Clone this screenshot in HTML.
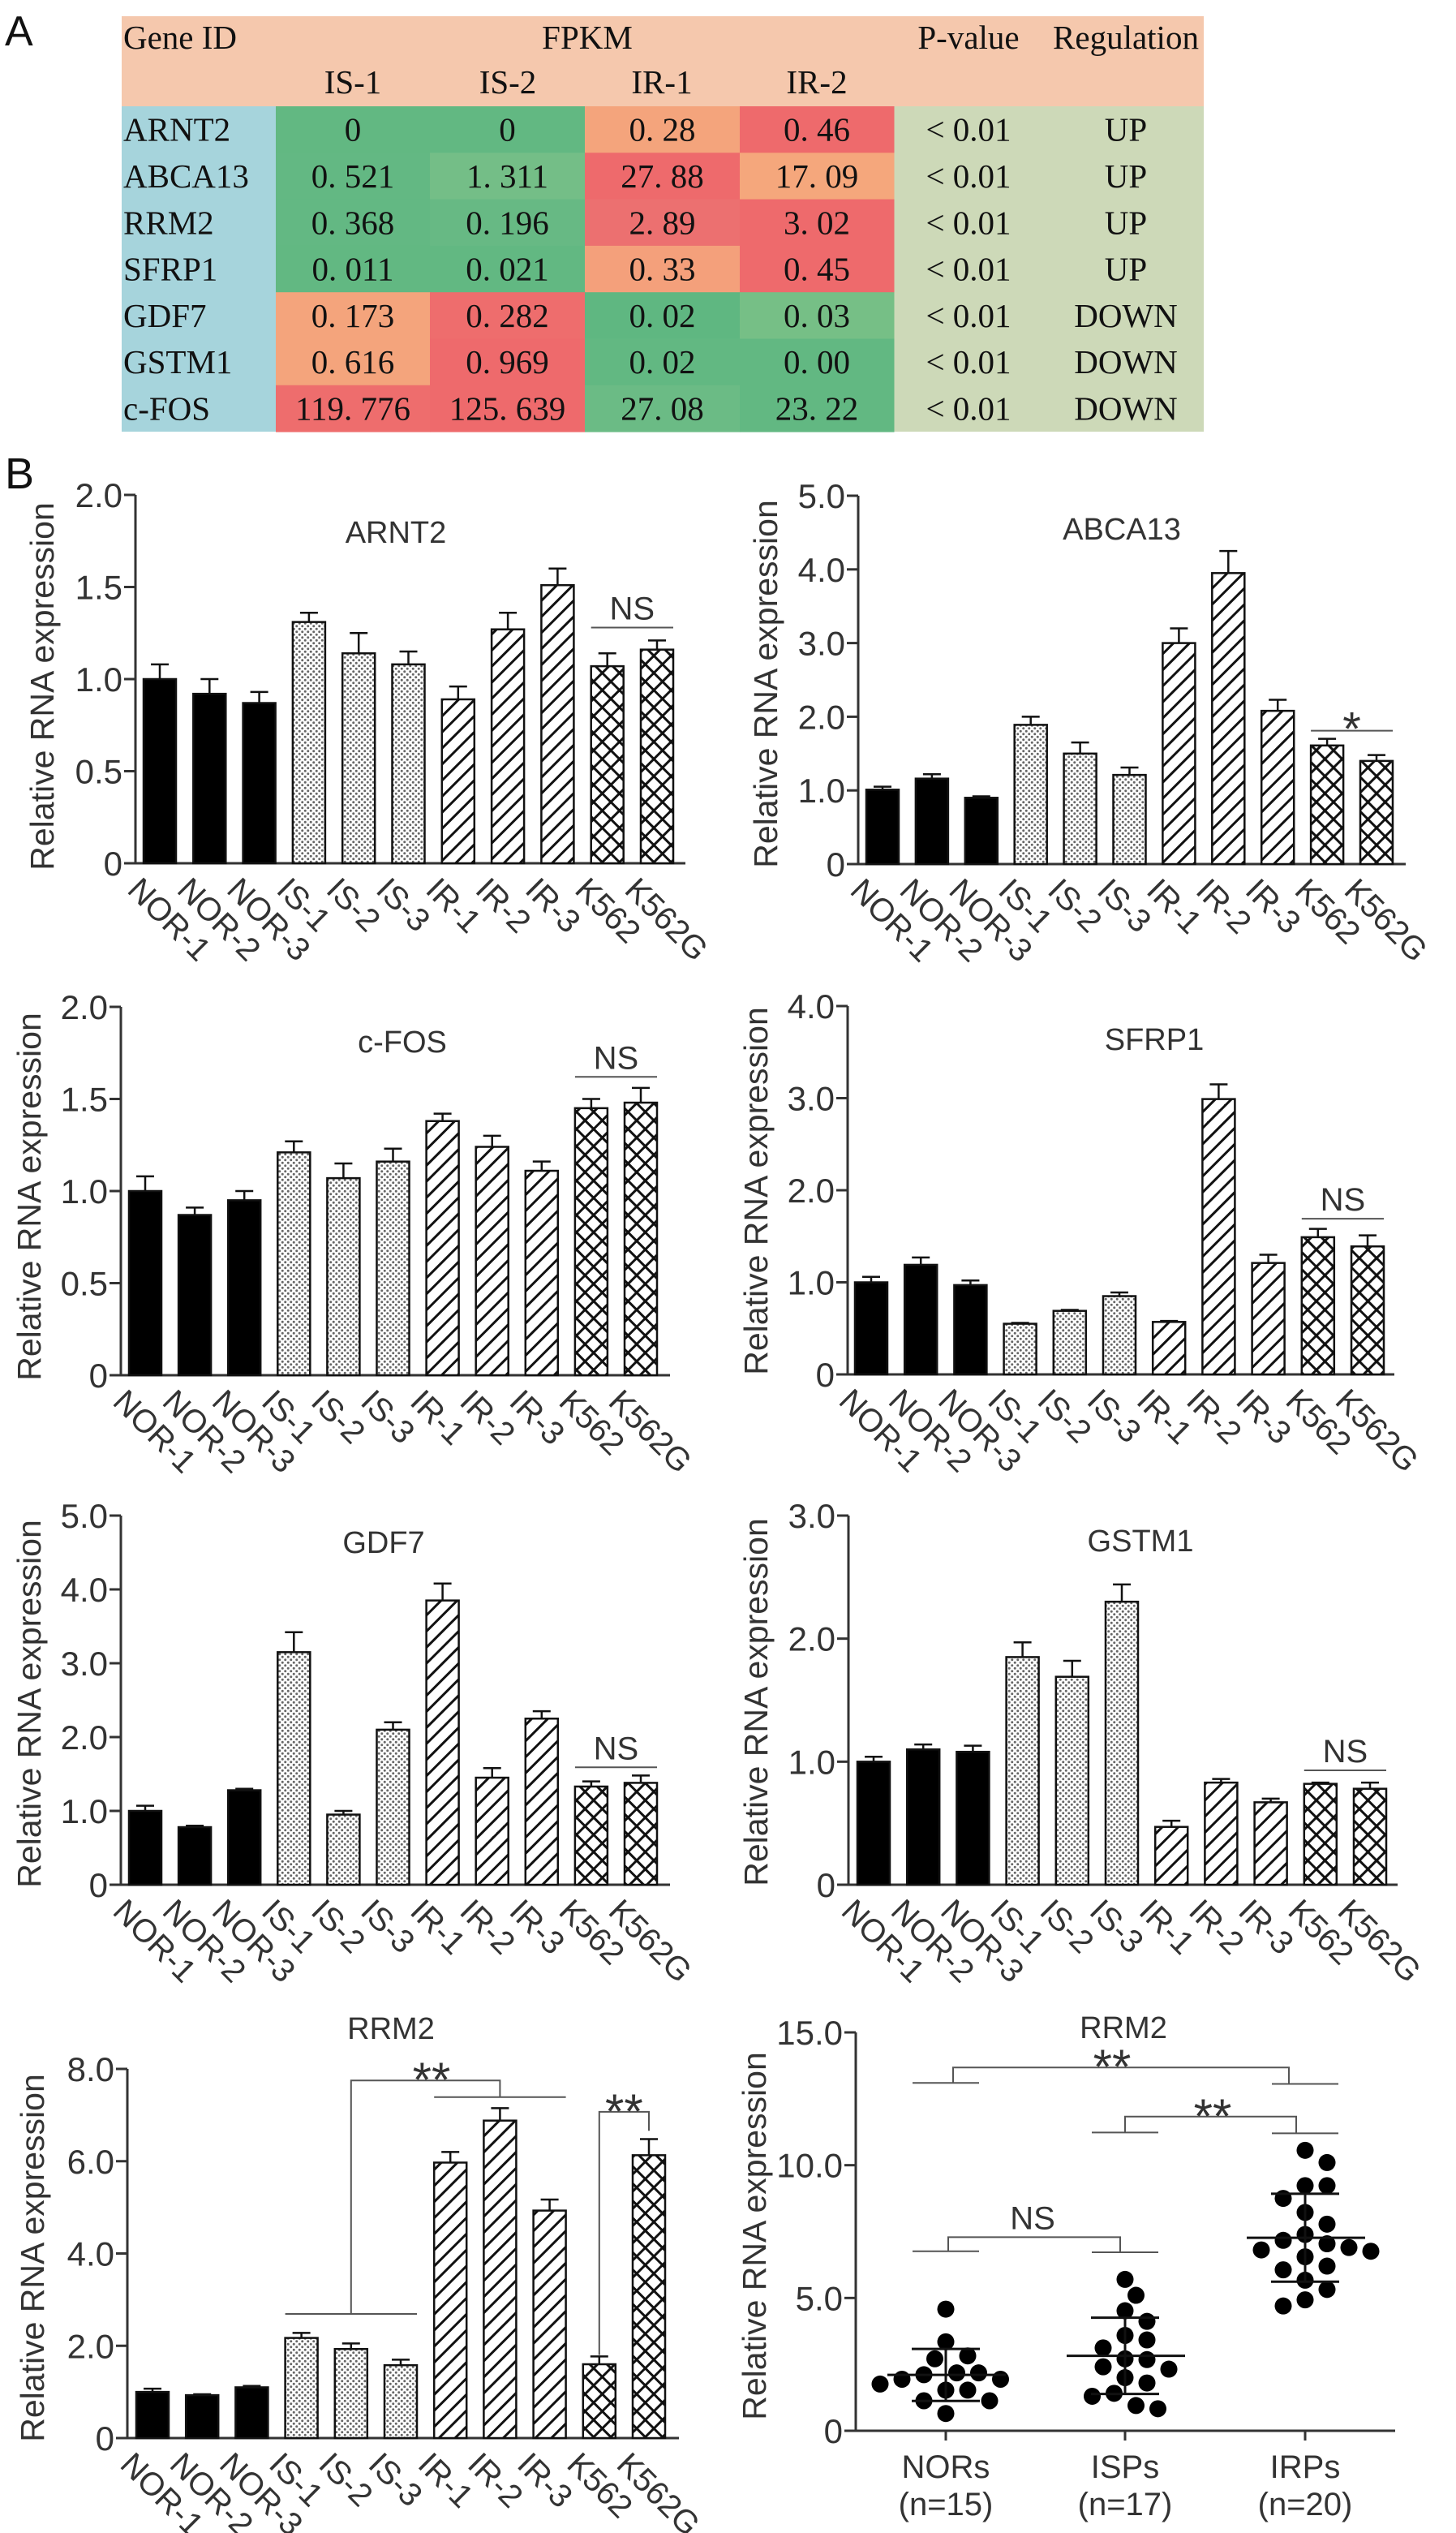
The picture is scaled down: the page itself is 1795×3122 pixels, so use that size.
<!DOCTYPE html>
<html><head><meta charset="utf-8"><title>Gene expression figure</title>
<style>
html,body{margin:0;padding:0;background:#fff;}
svg{display:block;}
.tb{font-family:"Liberation Serif",serif;font-size:41px;fill:#111;}
.ax{font-family:"Liberation Sans",sans-serif;fill:#333;}
</style></head>
<body>
<svg id="fig" xmlns="http://www.w3.org/2000/svg" width="1795" height="3122" viewBox="0 0 1795 3122">
<defs>
<pattern id="pDots" patternUnits="userSpaceOnUse" width="7" height="7">
<rect width="7" height="7" fill="#fff"/><circle cx="1.75" cy="1.75" r="1.5" fill="#666"/><circle cx="5.25" cy="5.25" r="1.5" fill="#666"/></pattern>
<pattern id="pStripe" patternUnits="userSpaceOnUse" width="14" height="14" patternTransform="rotate(45)">
<rect width="14" height="14" fill="#fff"/><line x1="0" y1="0" x2="0" y2="14" stroke="#111" stroke-width="6"/></pattern>
<pattern id="pCross" patternUnits="userSpaceOnUse" width="15" height="15" patternTransform="rotate(45)">
<rect width="15" height="15" fill="#fff"/><line x1="0" y1="0" x2="0" y2="15" stroke="#111" stroke-width="6"/><line x1="0" y1="0" x2="15" y2="0" stroke="#111" stroke-width="6"/></pattern>
</defs>

<text x="6" y="56" font-family="Liberation Sans, sans-serif" font-size="52" fill="#111">A</text>
<text x="6" y="602" font-family="Liberation Sans, sans-serif" font-size="54" fill="#111">B</text>

<g id="table"></g>
<g id="charts"></g>
</svg>

<script>
// ---------- Table data ----------
const tblGenes = ['ARNT2','ABCA13','RRM2','SFRP1','GDF7','GSTM1','c-FOS'];
const tblIS1 = ['0','0. 521','0. 368','0. 011','0. 173','0. 616','119. 776'];
const tblIS2 = ['0','1. 311','0. 196','0. 021','0. 282','0. 969','125. 639'];
const tblIR1 = ['0. 28','27. 88','2. 89','0. 33','0. 02','0. 02','27. 08'];
const tblIR2 = ['0. 46','17. 09','3. 02','0. 45','0. 03','0. 00','23. 22'];
const tblReg = ['UP','UP','UP','UP','DOWN','DOWN','DOWN'];
const tblColors = [
 ['#62b882','#62b882','#f4a47c','#ee6a6c'],
 ['#63b883','#74be87','#ee6a6c','#f5a77c'],
 ['#63b883','#67b984','#ec7070','#ee6a6c'],
 ['#62b882','#62b882','#f4a07b','#ee6a6c'],
 ['#f4a47c','#ee6d6d','#5fb781','#76bf86'],
 ['#f4a47c','#ee6a6c','#62b882','#62b882'],
 ['#ee6d6d','#ee6a6c','#6bbb85','#62b882']];

// ---------- Bar chart data ----------
const cats = ['NOR-1','NOR-2','NOR-3','IS-1','IS-2','IS-3','IR-1','IR-2','IR-3','K562','K562G'];
const arnt2Vals = [1.00,0.92,0.87,1.31,1.14,1.08,0.89,1.27,1.51,1.07,1.16];
const arnt2Errs = [0.08,0.08,0.06,0.05,0.11,0.07,0.07,0.09,0.09,0.07,0.05];
const abca13Vals = [1.01,1.16,0.90,1.89,1.50,1.21,3.00,3.95,2.08,1.61,1.40];
const abca13Errs = [0.04,0.06,0.02,0.11,0.15,0.10,0.20,0.30,0.15,0.09,0.08];
const cfosVals = [1.00,0.87,0.95,1.21,1.07,1.16,1.38,1.24,1.11,1.45,1.48];
const cfosErrs = [0.08,0.04,0.05,0.06,0.08,0.07,0.04,0.06,0.05,0.05,0.08];
const sfrp1Vals = [1.00,1.19,0.97,0.55,0.69,0.85,0.57,2.99,1.21,1.49,1.39];
const sfrp1Errs = [0.06,0.08,0.05,0.01,0.01,0.04,0.01,0.16,0.09,0.09,0.12];
const gdf7Vals = [1.00,0.78,1.28,3.15,0.95,2.10,3.85,1.45,2.25,1.33,1.38];
const gdf7Errs = [0.07,0.02,0.02,0.27,0.05,0.10,0.23,0.13,0.10,0.07,0.10];
const gstm1Vals = [1.00,1.10,1.08,1.85,1.69,2.30,0.47,0.83,0.67,0.82,0.78];
const gstm1Errs = [0.04,0.04,0.05,0.12,0.13,0.14,0.05,0.03,0.03,0.01,0.05];
const rrm2Vals = [1.00,0.93,1.10,2.17,1.93,1.58,5.97,6.88,4.93,1.60,6.13];
const rrm2Errs = [0.07,0.02,0.03,0.11,0.12,0.12,0.23,0.27,0.24,0.17,0.35];

// ---------- Scatter data ----------
const grpNames = ['NORs','ISPs','IRPs'];
const grpNs = ['(n=15)','(n=17)','(n=20)'];
const norPts = [4.58,3.35,2.71,2.82,2.18,1.94,2.11,1.94,2.18,1.53,1.76,1.53,1.13,1.13,0.65];
const ispPts = [5.70,5.10,4.52,4.12,3.59,3.42,3.12,2.68,2.71,2.41,2.32,2.00,1.80,1.41,1.30,0.83,0.95];
const irpPts = [10.56,10.10,9.23,9.23,8.75,8.22,7.78,7.39,7.17,6.90,6.76,6.81,7.04,6.55,6.06,6.20,5.67,5.32,4.70,4.93];

const NS = 'http://www.w3.org/2000/svg';
const TICK_FS = 42, YT_FS = 41, TITLE_FS = 38, CAT_FS = 40;
function mk(tag, attrs, parent){
  const el = document.createElementNS(NS, tag);
  for (const k in attrs) el.setAttribute(k, attrs[k]);
  parent.appendChild(el);
  return el;
}

// ---------- Build table ----------
(function(){
  const g = document.getElementById('table');
  const L=150, R=1484, T=20, HB=131, RH=57.3;
  const colX = [150,340,530,721,912,1102,1293,1484];
  let el;
  el = mk('rect',{x:L,y:T,width:R-L,height:HB-T,fill:'#f5c8ad'},g);
  
  
  el = mk('rect',{x:L,y:HB,width:190,height:RH*7,fill:'#a6d4dc'},g);
  
  
  el = mk('rect',{x:1102,y:HB,width:R-1102,height:RH*7,fill:'#cdd9b8'},g);
  
  
  const heads = [['Gene ID',152,66,'start'],['FPKM',724,66,'middle'],['P-value',1194,66,'middle'],['Regulation',1388,66,'middle'],
                 ['IS-1',435,121,'middle'],['IS-2',626,121,'middle'],['IR-1',816,121,'middle'],['IR-2',1007,121,'middle']];
  heads.forEach(h=>{
    el = mk('text',{x:h[1],y:h[2]-6,'text-anchor':h[3],class:'tb'},g);
    el.textContent = h[0];
    
    
  });
  tblGenes.forEach((gene,i)=>{
    const y = HB + RH*i;
    const cy = y + RH/2 + 14;
    const vals = [tblIS1[i],tblIS2[i],tblIR1[i],tblIR2[i]];
    for(let c=0;c<4;c++){
      el = mk('rect',{x:colX[c+1],y:y,width:colX[c+2]-colX[c+1]+0.5,height:RH+0.5,fill:tblColors[i][c]},g);
      
      
      el = mk('text',{x:(colX[c+1]+colX[c+2])/2,y:cy,'text-anchor':'middle',class:'tb'},g);
      el.textContent = vals[c];
      
      
    }
    el = mk('text',{x:152,y:cy,class:'tb'},g);
    el.textContent = gene;
    
    
    el = mk('text',{x:1194,y:cy,'text-anchor':'middle',class:'tb'},g);
    el.textContent = '< 0.01';
    
    
    el = mk('text',{x:1388,y:cy,'text-anchor':'middle',class:'tb'},g);
    el.textContent = tblReg[i];
    
    
  });
})();

// ---------- Bar charts ----------
const charts = document.getElementById('charts');
function fillFor(i){ return i<3 ? '#000' : i<6 ? 'url(#pDots)' : i<9 ? 'url(#pStripe)' : 'url(#pCross)'; }

function barChart(c, vals, errs){
  const g = mk('g',{},charts);
  
  
  const ys = v => c.y0 - (v/c.max)*(c.y0-c.yTop);
  const xs = i => c.barStart + i*c.pitch;
  const bw = 40;
  let el;
  el = mk('line',{x1:c.axisX,y1:c.yTop,x2:c.axisX,y2:c.y0,stroke:'#333','stroke-width':3},g);
  
  
  el = mk('line',{x1:c.axisX-14,y1:c.y0,x2:c.xEnd,y2:c.y0,stroke:'#333','stroke-width':3},g);
  
  
  for(let t=0;t<=c.max+1e-9;t+=c.step){
    const y = ys(t);
    el = mk('line',{x1:c.axisX-14,y1:y,x2:c.axisX,y2:y,stroke:'#333','stroke-width':3},g);
    
    
    el = mk('text',{x:c.axisX-16,y:y+15,'text-anchor':'end','font-size':TICK_FS,class:'ax'},g);
    el.textContent = t===0 ? '0' : t.toFixed(1);
    
    
  }
  el = mk('text',{x:0,y:0,'text-anchor':'middle','font-size':YT_FS,class:'ax',transform:`translate(${c.ytX},${c.ytY}) rotate(-90)`},g);
  el.textContent = 'Relative RNA expression';
  
  
  el = mk('text',{x:c.titleX,y:c.titleY+13,'text-anchor':'middle','font-size':TITLE_FS,class:'ax'},g);
  el.textContent = c.title;
  
  
  vals.forEach((v,i)=>{
    const x = xs(i), cx = x+bw/2;
    const et = ys(v+errs[i]);
    el = mk('line',{x1:cx,y1:ys(v),x2:cx,y2:et,stroke:'#111','stroke-width':2.5},g);
    
    
    el = mk('line',{x1:cx-11,y1:et,x2:cx+11,y2:et,stroke:'#111','stroke-width':2.5},g);
    
    
    el = mk('rect',{x:x,y:ys(v),width:bw,height:c.y0-ys(v),fill:fillFor(i),stroke:'#111','stroke-width':2.5},g);
    
    
    el = mk('text',{x:0,y:0,'font-size':CAT_FS,class:'ax','dominant-baseline':'hanging',transform:`translate(${cx-22},${c.y0+15}) rotate(45)`},g);
    el.textContent = cats[i];
    
    
  });
  if(c.sigLine!==undefined){
    const y = ys(c.sigLine);
    el = mk('line',{x1:xs(9),y1:y,x2:xs(10)+bw,y2:y,stroke:'#555','stroke-width':2},g);
    
    
    const star = c.sigText==='*';
    el = mk('text',{x:(xs(9)+xs(10)+bw)/2,y:star? y+18 : y-10,'text-anchor':'middle','font-size':star?58:40,class:'ax'},g);
    el.textContent = c.sigText;
    
    
  }
  return {g, ys, xs, bw};
}

barChart({name:'arnt2',title:'ARNT2',axisX:167,barStart:177,pitch:61.3,y0:1064,yTop:610,max:2,step:0.5,xEnd:845,titleX:488,titleY:656,ytX:66,ytY:846,sigLine:1.28,sigText:'NS'}, arnt2Vals, arnt2Errs);
barChart({name:'abca13',title:'ABCA13',axisX:1058,barStart:1068,pitch:60.9,y0:1065,yTop:611,max:5,step:1,xEnd:1733,titleX:1383,titleY:652,ytX:958,ytY:843,sigLine:1.81,sigText:'*'}, abca13Vals, abca13Errs);
barChart({name:'c-fos',title:'c-FOS',axisX:149,barStart:159,pitch:61.1,y0:1695,yTop:1241,max:2,step:0.5,xEnd:826,titleX:496,titleY:1284,ytX:50,ytY:1475,sigLine:1.62,sigText:'NS'}, cfosVals, cfosErrs);
barChart({name:'sfrp1',title:'SFRP1',axisX:1045,barStart:1054,pitch:61.2,y0:1694,yTop:1240,max:4,step:1,xEnd:1719,titleX:1423,titleY:1281,ytX:946,ytY:1468,sigLine:1.69,sigText:'NS'}, sfrp1Vals, sfrp1Errs);
barChart({name:'gdf7',title:'GDF7',axisX:149,barStart:159,pitch:61.1,y0:2323,yTop:1868,max:5,step:1,xEnd:826,titleX:473,titleY:1901,ytX:50,ytY:2100,sigLine:1.59,sigText:'NS'}, gdf7Vals, gdf7Errs);
barChart({name:'gstm1',title:'GSTM1',axisX:1046,barStart:1057,pitch:61.2,y0:2323,yTop:1868,max:3,step:1,xEnd:1723,titleX:1406,titleY:1899,ytX:946,ytY:2098,sigLine:0.93,sigText:'NS'}, gstm1Vals, gstm1Errs);
const rr = barChart({name:'rrm2-bar',title:'RRM2',axisX:157,barStart:168,pitch:61.2,y0:3005,yTop:2550,max:8,step:2,xEnd:837,titleX:482,titleY:2500,ytX:54,ytY:2783}, rrm2Vals, rrm2Errs);

// RRM2 bar brackets
(function(){
  const g = rr.g, ys = rr.ys, xs = rr.xs, bw = rr.bw;
  const pts = [
    [[xs(3),ys(2.69)],[xs(5)+bw,ys(2.69)]],
    [[xs(4)+bw/2,ys(2.69)],[xs(4)+bw/2,ys(7.75)],[xs(7)+bw/2,ys(7.75)],[xs(7)+bw/2,ys(7.39)]],
    [[xs(6),ys(7.39)],[xs(8)+bw,ys(7.39)]],
    [[xs(9)+bw/2,ys(1.8)],[xs(9)+bw/2,ys(7.07)],[xs(10)+bw/2,ys(7.07)],[xs(10)+bw/2,ys(6.66)]]
  ];
  pts.forEach(p=>{
    const el = mk('polyline',{points:p.map(q=>q.join(',')).join(' '),fill:'none',stroke:'#555','stroke-width':2},g);
    
    
  });
  let el = mk('text',{x:532,y:ys(7.75)+20,'text-anchor':'middle','font-size':60,class:'ax'},g);
  el.textContent = '**';
  
  
  el = mk('text',{x:(xs(9)+xs(10)+bw)/2,y:ys(7.07)+20,'text-anchor':'middle','font-size':60,class:'ax'},g);
  el.textContent = '**';
  
  
})();

// ---------- Scatter ----------
(function(){
  const g = mk('g',{},charts);
  
  
  const axisX=1055, y0=2996, yTop=2505, max=15, xEnd=1720;
  const centers=[1166,1387,1609];
  const ys = v => y0 - (v/max)*(y0-yTop);
  let el;
  el = mk('line',{x1:axisX,y1:yTop,x2:axisX,y2:y0,stroke:'#333','stroke-width':3},g);
  
  
  el = mk('line',{x1:axisX-14,y1:y0,x2:xEnd,y2:y0,stroke:'#333','stroke-width':3},g);
  
  
  [0,5,10,15].forEach(t=>{
    el = mk('line',{x1:axisX-14,y1:ys(t),x2:axisX,y2:ys(t),stroke:'#333','stroke-width':3},g);
    
    
    el = mk('text',{x:axisX-16,y:ys(t)+15,'text-anchor':'end','font-size':TICK_FS,class:'ax'},g);
    el.textContent = t===0?'0':t.toFixed(1);
    
    
  });
  el = mk('text',{x:0,y:0,'text-anchor':'middle','font-size':YT_FS,class:'ax',transform:'translate(944,2756) rotate(-90)'},g);
  el.textContent = 'Relative RNA expression';
  
  
  el = mk('text',{x:1385,y:2512,'text-anchor':'middle','font-size':TITLE_FS,class:'ax'},g);
  el.textContent = 'RRM2';
  
  
  const groups=[norPts,ispPts,irpPts];
  const r=10.5;
  groups.forEach((pts,gi)=>{
    const cx = centers[gi];
    el = mk('line',{x1:cx,y1:y0,x2:cx,y2:y0+12,stroke:'#333','stroke-width':3},g);
    
    
    el = mk('text',{x:cx,y:3054,'text-anchor':'middle','font-size':40,class:'ax'},g);
    el.textContent = grpNames[gi];
    
    
    el = mk('text',{x:cx,y:3100,'text-anchor':'middle','font-size':40,class:'ax'},g);
    el.textContent = grpNs[gi];
    
    
    const placed=[];
    const order = pts.map((v,i)=>i).sort((a,b)=>pts[b]-pts[a]);
    order.forEach(i=>{
      const y = ys(pts[i]);
      const cands=[0];
      for(let k=1;k<12;k++){cands.push(k*13.5);cands.push(-k*13.5);}
      let x=cx;
      for(const o of cands){
        const tx=cx+o;
        if(placed.every(p=>Math.hypot(p[0]-tx,p[1]-y)>=2*r+1)){x=tx;break;}
      }
      placed.push([x,y]);
      el = mk('circle',{cx:x,cy:y,r:r,fill:'#000'},g);
      
      
    });
    const mean = pts.reduce((a,b)=>a+b,0)/pts.length;
    const sd = Math.sqrt(pts.reduce((a,b)=>a+(b-mean)*(b-mean),0)/(pts.length-1));
    el = mk('line',{x1:cx-72,y1:ys(mean),x2:cx+74,y2:ys(mean),stroke:'#111','stroke-width':3},g);
    
    
    [mean+sd,mean-sd].forEach(v=>{
      el = mk('line',{x1:cx-42,y1:ys(v),x2:cx+42,y2:ys(v),stroke:'#111','stroke-width':3},g);
      
      
    });
    el = mk('line',{x1:cx,y1:ys(mean+sd),x2:cx,y2:ys(mean-sd),stroke:'#111','stroke-width':3},g);
    
    
  });
  const br = [
    [0,2,13.1,13.68,13.06,9,-20,'**',1371,13.68],
    [1,2,11.23,11.83,11.2,0,-11,'**',1495,11.83],
    [0,1,6.76,7.29,6.72,3,-6,'NS',1273,7.29]
  ];
  br.forEach(b=>{
    const lx=centers[b[0]], rx=centers[b[1]];
    el = mk('line',{x1:lx-41,y1:ys(b[2]),x2:lx+41,y2:ys(b[2]),stroke:'#555','stroke-width':2},g);
    
    
    el = mk('line',{x1:rx-41,y1:ys(b[4]),x2:rx+41,y2:ys(b[4]),stroke:'#555','stroke-width':2},g);
    
    
    el = mk('polyline',{points:`${lx+b[5]},${ys(b[2])} ${lx+b[5]},${ys(b[3])} ${rx+b[6]},${ys(b[3])} ${rx+b[6]},${ys(b[4])}`,fill:'none',stroke:'#555','stroke-width':2},g);
    
    
    const isNS = b[7]==='NS';
    el = mk('text',{x:b[8],y:isNS? ys(b[9])-10 : ys(b[9])+20,'text-anchor':'middle','font-size':isNS?40:60,class:'ax'},g);
    el.textContent = b[7];
    
    
  });
})();
</script>
</body></html>
